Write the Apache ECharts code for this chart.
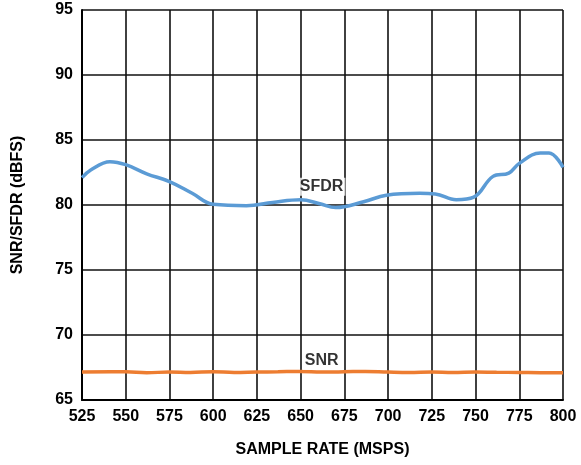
<!DOCTYPE html>
<html><head><meta charset="utf-8">
<script src="https://cdn.jsdelivr.net/npm/echarts@6/dist/echarts.min.js"></script>
<style>html,body{margin:0;padding:0;background:#fff}#c{width:581px;height:465px}</style>
</head><body><div id="c"></div>
<script>
const sampleRate = [525, 530, 541, 550, 562, 575, 588, 600, 619, 634, 650, 661, 670, 686, 699, 718, 727, 739, 749, 760, 769, 775, 787, 792, 800];
const sfdr = [82.1, 82.7, 83.33, 83.1, 82.4, 81.8, 80.9, 80.05, 79.95, 80.2, 80.4, 80.1, 79.8, 80.25, 80.75, 80.9, 80.85, 80.4, 80.6, 82.2, 82.45, 83.2, 84.0, 84.0, 82.9];
const snrRate = [525, 550, 562, 575, 587, 600, 612, 625, 637, 650, 662, 675, 687, 700, 712, 725, 737, 750, 762, 775, 787, 800];
const snr = [67.15, 67.17, 67.1, 67.15, 67.12, 67.17, 67.12, 67.15, 67.17, 67.2, 67.15, 67.17, 67.2, 67.15, 67.12, 67.15, 67.12, 67.15, 67.13, 67.12, 67.1, 67.1];
const xTicks = {min: 525, max: 800, interval: 25};
const yTicks = {min: 65, max: 95, interval: 5};
const labels = [{name: 'SFDR', x: 662, y: 81.4}, {name: 'SNR', x: 662, y: 68.0}];

const font = 'Liberation Sans, Arial, sans-serif';
const chart = echarts.init(document.getElementById('c'));
chart.setOption({
  animation: false,
  grid: {left: 82, right: 18, top: 10, bottom: 65, show: false},
  xAxis: {
    type: 'value', min: xTicks.min, max: xTicks.max, interval: xTicks.interval,
    name: 'SAMPLE RATE (MSPS)', nameLocation: 'middle', nameGap: 42,
    nameTextStyle: {fontFamily: font, fontWeight: 'bold', fontSize: 16, color: '#000'},
    axisLine: {lineStyle: {color: '#000', width: 2}},
    axisTick: {show: false},
    axisLabel: {fontFamily: font, fontWeight: 'bold', fontSize: 16, color: '#000', margin: 9},
    splitLine: {show: true, lineStyle: {color: '#111', width: 1.6}}
  },
  yAxis: {
    type: 'value', min: yTicks.min, max: yTicks.max, interval: yTicks.interval,
    name: 'SNR/SFDR (dBFS)', nameLocation: 'middle', nameGap: 56,
    nameTextStyle: {fontFamily: font, fontWeight: 'bold', fontSize: 16, color: '#000'},
    axisLine: {show: true, lineStyle: {color: '#000', width: 2}},
    axisTick: {show: false},
    axisLabel: {fontFamily: font, fontWeight: 'bold', fontSize: 16, color: '#000', margin: 9},
    splitLine: {show: true, lineStyle: {color: '#111', width: 1.6}}
  },
  series: [
    {type: 'line', name: 'SFDR', data: sampleRate.map((x, i) => [x, sfdr[i]]), smooth: 0.4, showSymbol: false,
     lineStyle: {color: '#5B9BD5', width: 3.5}, z: 3},
    {type: 'line', name: 'SNR', data: snrRate.map((x, i) => [x, snr[i]]), smooth: 0.4, showSymbol: false,
     lineStyle: {color: '#ED7D31', width: 3.5}, z: 3},
    {type: 'scatter', data: labels.map(l => ({value: [l.x, l.y], name: l.name})), symbolSize: 0,
     label: {show: true, position: 'inside', formatter: p => p.name, fontFamily: font, fontWeight: 'bold', fontSize: 16, color: '#000',
             backgroundColor: '#fff', padding: [1, 2]}, z: 4}
  ]
});
</script></body></html>
